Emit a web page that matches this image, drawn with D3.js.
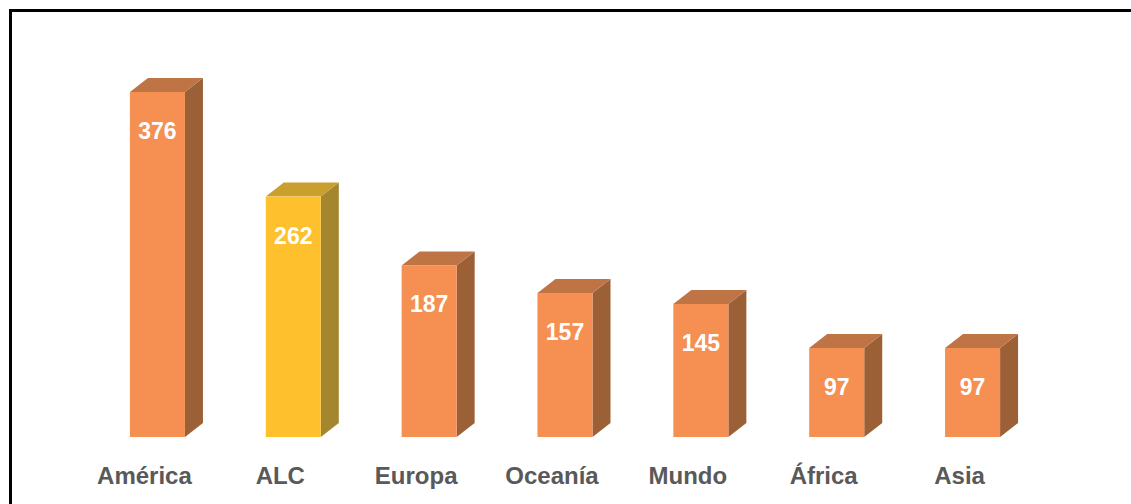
<!DOCTYPE html>
<html>
<head>
<meta charset="utf-8">
<script src="https://cdn.jsdelivr.net/npm/d3@7"></script>
<style>
  body { margin: 0; background: #fff; }
  svg { display: block; font-family: "Liberation Sans", Arial, sans-serif; }
</style>
</head>
<body>
<svg id="chart"></svg>
<script>
const categories = ["América", "ALC", "Europa", "Oceanía", "Mundo", "África", "Asia"];
const values = [376, 262, 187, 157, 145, 97, 97];
const highlight = ["ALC"];

const width = 1131;
const height = 504;
const baseY = 437;
const depthX = 18;
const depthY = 14;

// ======== colores (frente, arriba, lado)
const orange = { front: "#F58F52", top: "#BF7445", side: "#9C6037" };
const yellow = { front: "#FEC12D", top: "#C9A02E", side: "#A4862E" };

const svg = d3.select("#chart")
  .attr("width", width)
  .attr("height", height);

// marco negro
svg.append("rect")
  .attr("x", 10.5)
  .attr("y", 10.5)
  .attr("width", width + 20)
  .attr("height", height + 20)
  .attr("fill", "none")
  .attr("stroke", "#000")
  .attr("stroke-width", 3);

const x = d3.scaleBand()
  .domain(categories)
  .range([62, 1068])
  .paddingInner(0.595)
  .paddingOuter(0.5);

const y = d3.scaleLinear()
  .domain([0, 376])
  .range([baseY, 92]);

const data = categories.map((c, i) => ({ cat: c, value: values[i] }));
const colorOf = d => highlight.includes(d.cat) ? yellow : orange;

const bar = svg.append("g")
  .selectAll("g")
  .data(data)
  .join("g");

// cara lateral
bar.append("path")
  .attr("fill", d => colorOf(d).side)
  .attr("d", d => {
    const x1 = x(d.cat) + x.bandwidth();
    const yt = y(d.value);
    return `M${x1},${yt} L${x1 + depthX},${yt - depthY} L${x1 + depthX},${baseY - depthY} L${x1},${baseY} Z`;
  });

// cara superior
bar.append("path")
  .attr("fill", d => colorOf(d).top)
  .attr("d", d => {
    const x0 = x(d.cat);
    const x1 = x0 + x.bandwidth();
    const yt = y(d.value);
    return `M${x0},${yt} L${x0 + depthX},${yt - depthY} L${x1 + depthX},${yt - depthY} L${x1},${yt} Z`;
  });

// cara frontal
bar.append("rect")
  .attr("x", d => x(d.cat))
  .attr("y", d => y(d.value))
  .attr("width", x.bandwidth())
  .attr("height", d => baseY - y(d.value))
  .attr("fill", d => colorOf(d).front);

// valores
bar.append("text")
  .attr("x", d => x(d.cat) + x.bandwidth() / 2)
  .attr("y", d => y(d.value) + 47)
  .attr("text-anchor", "middle")
  .attr("fill", "#fff")
  .attr("font-weight", "bold")
  .attr("font-size", 23)
  .text(d => d.value);

// etiquetas de categoría
svg.append("g")
  .selectAll("text")
  .data(data)
  .join("text")
  .attr("x", d => x(d.cat) + x.bandwidth() / 2 - 13)
  .attr("y", 484)
  .attr("text-anchor", "middle")
  .attr("fill", "#595959")
  .attr("font-weight", "bold")
  .attr("font-size", 24)
  .text(d => d.cat);
</script>
</body>
</html>
